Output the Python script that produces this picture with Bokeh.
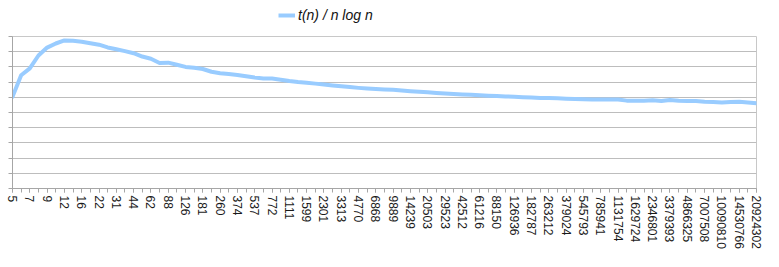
from bokeh.plotting import figure
from bokeh.layouts import column
from bokeh.models import (Range1d, FixedTicker, Legend, LegendItem,
                          CustomJSTickFormatter, ColumnDataSource)
from bokeh.embed import file_html
from bokeh.resources import INLINE

# ---- data -------------------------------------------------------------
n_values = [5, 6, 7, 8, 9, 10, 12, 14, 16, 19, 22, 26, 31, 37, 44, 52, 62, 74,
            88, 105, 126, 151, 181, 217, 260, 312, 374, 448, 537, 644, 772,
            926, 1111, 1333, 1599, 1918, 2301, 2761, 3313, 3975, 4770, 5724,
            6868, 8241, 9889, 11866, 14239, 17086, 20503, 24603, 29523, 35427,
            42512, 51014, 61216, 73459, 88150, 105780, 126936, 152323, 182787,
            219344, 263212, 315854, 379024, 454828, 545793, 654951, 785941,
            943129, 1131754, 1358104, 1629724, 1955668, 2346801, 2816161,
            3379393, 4055271, 4866325, 5839590, 7007508, 8409009, 10090810,
            12108972, 14530766, 17436919, 20924302]

ratio = [6.03, 7.45, 7.90, 8.75, 9.27, 9.54, 9.74, 9.72, 9.66, 9.56, 9.46,
         9.28, 9.16, 9.04, 8.90, 8.68, 8.54, 8.26, 8.28, 8.14, 8.00, 7.94,
         7.86, 7.68, 7.58, 7.53, 7.47, 7.38, 7.30, 7.24, 7.23, 7.16, 7.07,
         7.00, 6.95, 6.90, 6.84, 6.78, 6.72, 6.67, 6.62, 6.58, 6.55, 6.52,
         6.49, 6.45, 6.40, 6.36, 6.33, 6.29, 6.25, 6.22, 6.19, 6.16, 6.13,
         6.11, 6.09, 6.06, 6.04, 6.01, 5.98, 5.96, 5.95, 5.93, 5.91, 5.89,
         5.87, 5.86, 5.85, 5.86, 5.86, 5.78, 5.77, 5.78, 5.80, 5.76, 5.82,
         5.77, 5.75, 5.75, 5.71, 5.69, 5.66, 5.69, 5.70, 5.66, 5.61]

series_name = "t(n) / n log n"
y_ticks = [0, 1, 2, 3, 4, 5, 6, 7, 8, 9, 10]

idx = list(range(len(n_values)))
label_idx = idx[::2]
labels = {i: str(n_values[i]) for i in label_idx}

source = ColumnDataSource(dict(idx=idx, ratio=ratio))

FONT = "Liberation Sans"
GRID = "#bdbdbd"
AXIS = "#a6a6a6"
LINE = "#99ccff"
W = 763
TOP_H = 36
H = 251

# ---- legend strip (top) ----------------------------------------------
top = figure(width=W, height=TOP_H, output_backend="svg", toolbar_location=None,
             x_range=Range1d(0, 1), y_range=Range1d(0, 1),
             x_axis_type=None, y_axis_type=None,
             min_border_left=0, min_border_right=0, min_border_top=0,
             min_border_bottom=0)
top.outline_line_color = None
top.grid.grid_line_color = None
top.background_fill_color = "white"
top.border_fill_color = "white"
nan = float("nan")
key = top.line(x=[nan], y=[nan], line_color=LINE, line_width=4)
legend = Legend(items=[LegendItem(label=series_name, renderers=[key])],
                location=(266, 13), orientation="horizontal",
                padding=0, margin=0, spacing=0, glyph_width=17,
                glyph_height=16, label_height=16, label_standoff=3,
                border_line_color=None, background_fill_alpha=0,
                label_text_font=FONT, label_text_font_size="14px",
                label_text_font_style="italic", label_text_color="#111111")
top.add_layout(legend, "center")

# ---- main chart -------------------------------------------------------
p = figure(width=W, height=H - TOP_H, output_backend="svg",
           toolbar_location=None,
           x_range=Range1d(0, len(n_values) - 1), y_range=Range1d(0, 10),
           min_border_left=12, min_border_right=7, min_border_top=0,
           min_border_bottom=0)
p.background_fill_color = "white"
p.border_fill_color = "white"
p.outline_line_color = "#c8c8c8"
p.outline_line_width = 1

xa = p.xaxis[0]
xa.ticker = FixedTicker(ticks=label_idx, minor_ticks=idx)
xa.major_label_overrides = labels
xa.major_label_orientation = "vertical"
xa.major_label_text_font = FONT
xa.major_label_text_font_size = "12px"
xa.major_label_text_color = "#1a1a1a"
xa.major_label_standoff = 3
xa.major_tick_out = 4
xa.major_tick_in = 0
xa.minor_tick_out = 4
xa.minor_tick_in = 0
xa.axis_line_color = AXIS
xa.major_tick_line_color = AXIS
xa.minor_tick_line_color = AXIS
p.xgrid.grid_line_color = None

ya = p.yaxis[0]
ya.ticker = FixedTicker(ticks=y_ticks, minor_ticks=[])
ya.formatter = CustomJSTickFormatter(code="return '';")
ya.major_label_standoff = 0
ya.major_tick_out = 4
ya.major_tick_in = 0
ya.minor_tick_line_color = None
ya.axis_line_color = AXIS
ya.major_tick_line_color = AXIS
p.ygrid.ticker = FixedTicker(ticks=y_ticks)
p.ygrid.grid_line_color = GRID
p.ygrid.grid_line_width = 1

p.line(x="idx", y="ratio", source=source, line_color=LINE,
       line_width=4, line_join="round", line_cap="round")

layout = column(top, p, spacing=0)
open("out.html", "w").write(file_html(layout, INLINE))
